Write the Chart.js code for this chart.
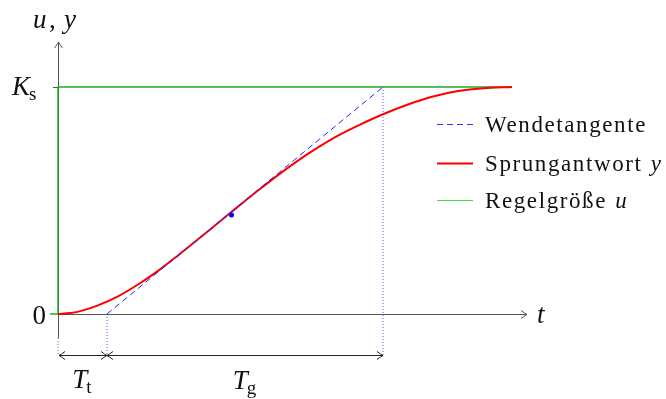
<!DOCTYPE html>
<html lang="de">
<head>
<meta charset="UTF-8" />
<title>Sprungantwort mit Wendetangente</title>
<script src="https://cdn.jsdelivr.net/npm/chart.js@4.4.1/dist/chart.umd.min.js"></script>
<style>
  html, body { margin: 0; padding: 0; background: #fff; }
  .wrap { position: relative; width: 666px; height: 399px; }
</style>
</head>
<body>
<div class="wrap"><canvas id="chart"></canvas></div>
<script>
// Sprungantwort y(t) (K_s = 1)
const tCurve = [0, 0.25, 0.5, 0.8, 1.2, 1.6, 2.0, 2.4, 2.8, 3.2, 3.6, 4.0, 4.4, 4.8, 5.2, 5.6, 6.0, 6.5, 7.0, 7.5, 8.0, 8.5, 9.08];
const yCurve = [0, 0.004, 0.016, 0.038, 0.078, 0.13, 0.19, 0.258, 0.329, 0.401, 0.473, 0.544, 0.612, 0.676, 0.734, 0.786, 0.83, 0.88, 0.923, 0.958, 0.982, 0.995, 1.0];

// Wendetangente und Wendepunkt
const tTangent = [0.98, 6.5];
const yTangent = [0, 1];
const inflection = { x: 3.47, y: 0.436 };

// Regelgröße u (Sprung)
const tInput = [-0.16, 0, 0, 9.08];
const uInput = [0, 0, 1, 1];

// Kennwerte
const Tt = 0.98;
const TgEnd = 6.5;
const Ks = 1;
const dimY = -0.18;        // Höhe der Maßpfeile
const axisBottom = -0.106; // unteres Ende der y-Achse
const xAxisEnd = 9.38;
const yAxisEnd = 1.198;

const legendItems = [
  { label: "Wendetangente", math: "", color: "#3333ff", dash: [6, 4] },
  { label: "Sprungantwort ", math: "y", color: "#ff0000", dash: [], width: 2 },
  { label: "Regelgröße ", math: "u", color: "#44dd44", dash: [] },
];

const pts = (xs, ys) => xs.map((x, i) => ({ x, y: ys[i] }));

const SERIF = '"Liberation Serif", "DejaVu Serif", serif';

function arrowHead(ctx, x, y, dir) {
  // dir: 'r', 'l', 'u'
  ctx.beginPath();
  if (dir === "r") { ctx.moveTo(x - 6, y - 4); ctx.quadraticCurveTo(x - 2, y - 1, x, y); ctx.quadraticCurveTo(x - 2, y + 1, x - 6, y + 4); }
  if (dir === "l") { ctx.moveTo(x + 6, y - 4); ctx.quadraticCurveTo(x + 2, y - 1, x, y); ctx.quadraticCurveTo(x + 2, y + 1, x + 6, y + 4); }
  if (dir === "u") { ctx.moveTo(x - 4, y + 6); ctx.quadraticCurveTo(x - 1, y + 2, x, y); ctx.quadraticCurveTo(x + 1, y + 2, x + 4, y + 6); }
  ctx.stroke();
}

// Text mit Index, z. B. K_s
function subText(ctx, main, sub, x, y, size, center) {
  ctx.font = "italic " + size + "px " + SERIF;
  const w1 = ctx.measureText(main).width;
  ctx.font = Math.round(size * 0.72) + "px " + SERIF;
  const w2 = ctx.measureText(sub).width;
  let x0 = center ? x - (w1 + w2) / 2 : x;
  ctx.font = "italic " + size + "px " + SERIF;
  ctx.fillText(main, x0, y);
  ctx.font = Math.round(size * 0.72) + "px " + SERIF;
  ctx.fillText(sub, x0 + w1 - 1, y + size * 0.18);
}

const axesPlugin = {
  id: "axes",
  beforeDatasetsDraw(chart) {
    const { ctx, scales: { x, y } } = chart;
    ctx.save();
    ctx.strokeStyle = "#555";
    ctx.lineWidth = 1;
    // x-Achse
    ctx.beginPath();
    ctx.moveTo(x.getPixelForValue(0), y.getPixelForValue(0) + 0.5);
    ctx.lineTo(x.getPixelForValue(xAxisEnd), y.getPixelForValue(0) + 0.5);
    ctx.stroke();
    arrowHead(ctx, x.getPixelForValue(xAxisEnd), y.getPixelForValue(0) + 0.5, "r");
    // y-Achse
    ctx.beginPath();
    ctx.moveTo(x.getPixelForValue(0) + 0.5, y.getPixelForValue(axisBottom));
    ctx.lineTo(x.getPixelForValue(0) + 0.5, y.getPixelForValue(yAxisEnd));
    ctx.stroke();
    arrowHead(ctx, x.getPixelForValue(0) + 0.5, y.getPixelForValue(yAxisEnd), "u");
    // Teilstrich bei K_s
    ctx.beginPath();
    ctx.moveTo(x.getPixelForValue(0) - 5, y.getPixelForValue(Ks) + 0.5);
    ctx.lineTo(x.getPixelForValue(0), y.getPixelForValue(Ks) + 0.5);
    ctx.stroke();
    ctx.restore();
  },
  afterDraw(chart) {
    const { ctx, scales: { x, y } } = chart;
    ctx.save();
    ctx.fillStyle = "#111";
    ctx.strokeStyle = "#222";
    ctx.lineWidth = 1;

    // Maßpfeile T_t und T_g
    const yd = Math.round(y.getPixelForValue(dimY)) + 0.5;
    const x0 = x.getPixelForValue(0), x1 = x.getPixelForValue(Tt), x2 = x.getPixelForValue(TgEnd);
    ctx.beginPath();
    ctx.moveTo(x0 + 1, yd); ctx.lineTo(x2, yd);
    ctx.stroke();
    arrowHead(ctx, x0 + 1, yd, "l");
    arrowHead(ctx, x1, yd, "r");
    arrowHead(ctx, x1, yd, "l");
    arrowHead(ctx, x2, yd, "r");

    ctx.textBaseline = "alphabetic";
    subText(ctx, "T", "t", (x0 + x1) / 2, 388, 27, true);
    subText(ctx, "T", "g", (x1 + x2) / 2, 389, 27, true);

    // Achsenbeschriftungen
    ctx.font = "italic 27px " + SERIF;
    ctx.fillText("u", 33, 28);
    ctx.font = "27px " + SERIF;
    ctx.fillText(",", 49, 28);
    ctx.font = "italic 27px " + SERIF;
    ctx.fillText("y", 64, 28);
    ctx.fillText("t", 537, 323);
    ctx.font = "27px " + SERIF;
    ctx.textAlign = "right";
    ctx.fillText("0", x0 - 12, y.getPixelForValue(0) + 10);
    ctx.textAlign = "left";
    subText(ctx, "K", "s", 12, y.getPixelForValue(Ks) + 8, 27, false);

    // Legende
    const rows = [124, 163, 200];
    legendItems.forEach((it, i) => {
      const ly = rows[i] + 0.5;
      ctx.strokeStyle = it.color;
      ctx.lineWidth = it.width || 1;
      ctx.setLineDash(it.dash);
      ctx.beginPath();
      ctx.moveTo(437, ly); ctx.lineTo(473, ly);
      ctx.stroke();
      ctx.setLineDash([]);
      ctx.fillStyle = "#111";
      ctx.letterSpacing = "1.6px";
      ctx.font = "23px " + SERIF;
      ctx.fillText(it.label, 485, rows[i] + 8);
      const w = ctx.measureText(it.label).width;
      ctx.letterSpacing = "0px";
      if (it.math) {
        ctx.font = "italic 23px " + SERIF;
        ctx.fillText(it.math, 485 + w + 1, rows[i] + 8);
      }
    });
    ctx.restore();
  },
};

new Chart(document.getElementById("chart"), {
  type: "scatter",
  data: {
    datasets: [
      { label: "Wendepunkt", data: [inflection], pointRadius: 2.5, pointBackgroundColor: "#0000ff", pointBorderWidth: 0, order: 0 },
      { label: "Wendetangente", data: pts(tTangent, yTangent), showLine: true, borderColor: "#2222ff", borderWidth: 1, borderDash: [6, 4], pointRadius: 0, order: 1 },
      { label: "Sprungantwort y", data: pts(tCurve, yCurve), showLine: true, borderColor: "#ff0000", borderWidth: 2, cubicInterpolationMode: "monotone", pointRadius: 0, order: 2 },
      { label: "Regelgröße u", data: pts(tInput, uInput), showLine: true, borderColor: "#22aa22", borderWidth: 1.5, pointRadius: 0, order: 3 },
      { label: "Tt", data: [{ x: Tt, y: 0 }, { x: Tt, y: dimY }], showLine: true, borderColor: "#5555ff", borderWidth: 1, borderDash: [1, 2], pointRadius: 0, order: 4 },
      { label: "Tg", data: [{ x: TgEnd, y: Ks }, { x: TgEnd, y: dimY }], showLine: true, borderColor: "#5555ff", borderWidth: 1, borderDash: [1, 2], pointRadius: 0, order: 4 },
      { label: "0", data: [{ x: 0, y: axisBottom }, { x: 0, y: dimY }], showLine: true, borderColor: "#777", borderWidth: 1, borderDash: [1, 2], pointRadius: 0, order: 4 },
    ],
  },
  options: {
    responsive: true,
    maintainAspectRatio: false,
    animation: false,
    layout: { padding: 0, autoPadding: false },
    plugins: { legend: { display: false }, tooltip: { enabled: false } },
    scales: {
      x: { type: "linear", display: false, min: -1.16, max: 12.16 },
      y: { type: "linear", display: false, min: -0.3744, max: 1.3833 },
    },
  },
  plugins: [axesPlugin],
});
</script>
</body>
</html>
